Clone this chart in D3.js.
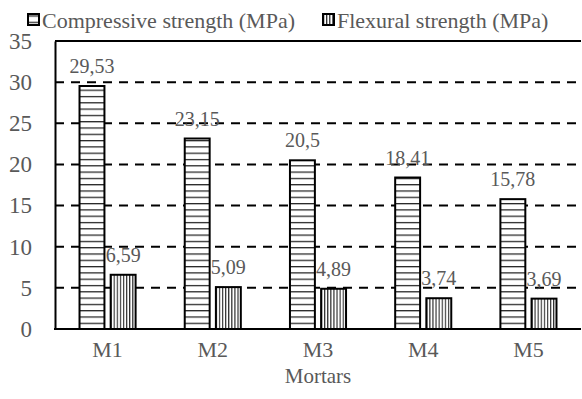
<!DOCTYPE html>
<meta charset='utf-8'>
<head>
  <title>Mortar strength</title>
  <style>
    body { margin: 0; background: #fff; }
    text { font-family: 'Liberation Serif', 'Times New Roman', serif; }
  </style>
</head>
<body>
<div id='chart'></div>
<script src='https://d3js.org/d3.v7.min.js'></script>
<script>

var categories = ['M1', 'M2', 'M3', 'M4', 'M5'];
var seriesNames = ['Compressive strength (MPa)', 'Flexural strength (MPa)'];
var compressive = [29.53, 23.15, 20.5, 18.41, 15.78];
var flexural = [6.59, 5.09, 4.89, 3.74, 3.69];
var compressiveLabels = ['29,53', '23,15', '20,5', '18,41', '15,78'];
var flexuralLabels = ['6,59', '5,09', '4,89', '3,74', '3,69'];
var yTicks = [0, 5, 10, 15, 20, 25, 30, 35];

var width = 582,
    height = 399,
    plotLeft = 55, plotRight = 581, plotTop = 41, plotBottom = 329;

var rows = categories.map(function(c, i) {
  return { cat: c, values: [
    { s: 0, v: compressive[i], label: compressiveLabels[i] },
    { s: 1, v: flexural[i], label: flexuralLabels[i] }
  ] };
});

var svg = d3.select('#chart').append('svg')
    .attr('width', width)
    .attr('height', height);

var defs = svg.append('defs');

var ph = defs.append('pattern')
    .attr('id', 'hlines')
    .attr('patternUnits', 'userSpaceOnUse')
    .attr('width', 8).attr('height', 6.3)
    .attr('y', plotBottom);
ph.append('rect').attr('width', 8).attr('height', 6.3).attr('fill', '#fff');
ph.append('line').attr('x1', 0).attr('x2', 8).attr('y1', 0.6).attr('y2', 0.6)
    .attr('stroke', '#222').attr('stroke-width', 1.3);

var pv = defs.append('pattern')
    .attr('id', 'vlines')
    .attr('patternUnits', 'userSpaceOnUse')
    .attr('width', 3.1).attr('height', 8);
pv.append('rect').attr('width', 3.1).attr('height', 8).attr('fill', '#fff');
pv.append('line').attr('y1', 0).attr('y2', 8).attr('x1', 0.6).attr('x2', 0.6)
    .attr('stroke', '#222').attr('stroke-width', 1.1);

var fills = ['url(#hlines)', 'url(#vlines)'];

var x0 = d3.scaleBand()
    .domain(categories)
    .range([plotLeft, plotRight])
    .paddingInner(0.467)
    .paddingOuter(0.233);

var x1 = d3.scaleBand()
    .domain([0, 1])
    .range([0, x0.bandwidth()])
    .paddingInner(0.2);

var y = d3.scaleLinear()
    .domain([0, 35])
    .range([plotBottom, plotTop]);

// dashed grid
svg.append('g')
  .selectAll('line')
  .data(yTicks.filter(function(t) { return t > 0 && t < 35; }))
  .enter().append('line')
    .attr('x1', plotLeft).attr('x2', plotRight)
    .attr('y1', function(d) { return y(d); })
    .attr('y2', function(d) { return y(d); })
    .attr('stroke', '#000')
    .attr('stroke-width', 2)
    .attr('stroke-dasharray', '9,7');

// top border
svg.append('line')
    .attr('x1', plotLeft).attr('x2', plotRight)
    .attr('y1', y(35)).attr('y2', y(35))
    .attr('stroke', '#000').attr('stroke-width', 2);

// bars
var groups = svg.append('g')
  .selectAll('g')
  .data(rows)
  .enter().append('g')
    .attr('transform', function(d) { return 'translate(' + x0(d.cat) + ',0)'; });

groups.selectAll('rect')
  .data(function(d) { return d.values; })
  .enter().append('rect')
    .attr('x', function(d) { return x1(d.s); })
    .attr('y', function(d) { return y(d.v); })
    .attr('width', x1.bandwidth())
    .attr('height', function(d) { return y(0) - y(d.v); })
    .attr('fill', function(d) { return fills[d.s]; })
    .attr('stroke', '#000')
    .attr('stroke-width', 2);

groups.selectAll('text')
  .data(function(d) { return d.values; })
  .enter().append('text')
    .attr('x', function(d) { return x1(d.s) + x1.bandwidth() / 2; })
    .attr('y', function(d) { return y(d.v) - 13; })
    .attr('text-anchor', 'middle')
    .attr('font-size', 20)
    .attr('fill', '#595959')
    .text(function(d) { return d.label; });

// y axis
var yAxis = svg.append('g')
    .attr('transform', 'translate(' + plotLeft + ',0)')
    .call(d3.axisLeft(y).tickValues(yTicks).tickSize(0).tickPadding(23));
yAxis.select('.domain').attr('stroke', '#000').attr('stroke-width', 2);
yAxis.selectAll('text')
    .attr('font-size', 23)
    .attr('fill', '#595959')
    .attr('font-family', 'Liberation Serif');

// x axis
var xAxis = svg.append('g')
    .attr('transform', 'translate(0,' + plotBottom + ')')
    .call(d3.axisBottom(x0).tickSize(0).tickPadding(12));
xAxis.select('.domain').remove();
xAxis.selectAll('text')
    .attr('font-size', 22)
    .attr('fill', '#595959')
    .attr('font-family', 'Liberation Serif');

svg.append('line')
    .attr('x1', plotLeft - 1).attr('x2', plotRight)
    .attr('y1', plotBottom).attr('y2', plotBottom)
    .attr('stroke', '#000').attr('stroke-width', 2);

svg.append('text')
    .attr('x', (plotLeft + plotRight) / 2)
    .attr('y', 383)
    .attr('text-anchor', 'middle')
    .attr('font-size', 21)
    .attr('fill', '#595959')
    .text('Mortars');

// legend
var legendX = [28, 323];
var legend = svg.append('g')
  .selectAll('g')
  .data(seriesNames)
  .enter().append('g')
    .attr('transform', function(d, i) { return 'translate(' + legendX[i] + ',14)'; });

legend.append('rect')
    .attr('width', 11).attr('height', 11)
    .attr('fill', function(d, i) { return fills[i]; })
    .attr('stroke', '#000')
    .attr('stroke-width', 2);

legend.append('text')
    .attr('x', 14)
    .attr('y', 14)
    .attr('font-size', 22)
    .attr('fill', '#595959')
    .text(function(d) { return d; });

</script>
</body>
